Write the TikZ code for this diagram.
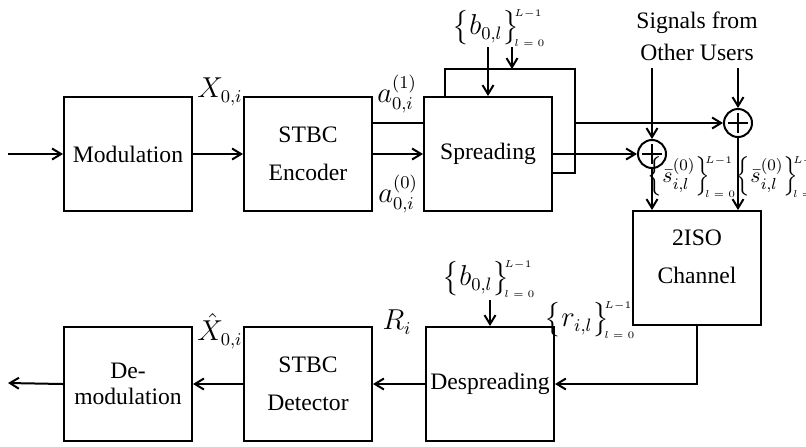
\documentclass[tikz,border=0pt]{standalone}
\usepackage{amsmath}
\usepackage{fontspec}
\setmainfont{Liberation Serif}
\usepackage{tikz}
\usetikzlibrary{calc}
\usetikzlibrary{arrows.meta}

\newcommand{\boxfont}{\fontsize{11.8}{19}\selectfont}
\newcommand{\labfont}{\fontsize{13.5}{16}\selectfont}
\newcommand{\tinyidx}[1]{\kern-2.5pt\mbox{\fontsize{5.5}{6}\selectfont$#1$}}

\begin{document}
\begin{tikzpicture}[x = 0.5pt, y = -0.5pt,
    block/.style = {draw, line width = 1pt, minimum width = 64pt, minimum height = 57pt,
                    align = center, inner sep = 0pt, font = \boxfont},
    adder/.style = {draw, circle, line width = 1pt, minimum size = 14pt, inner sep = 0pt,
                    path picture = {
                      \draw [line width = 1pt] ([yshift = -2pt]path picture bounding box.north)
                        -- ([yshift = 2pt]path picture bounding box.south);
                      \draw [line width = 1pt] ([xshift = 2pt]path picture bounding box.west)
                        -- ([xshift = -2pt]path picture bounding box.east);}},
    wire/.style = {line width = 1pt},
    sig/.style = {line width = 1pt, -{Straight Barb[length = 4.5pt, width = 5.5pt]}},
    lab/.style = {inner sep = 0pt, font = \labfont},
    slab/.style = {inner sep = 0pt, font = \fontsize{11}{13}\selectfont}]
    \useasboundingbox (0, 0) rectangle (806, 446);

    % transmitter
    \node [block] (mod) at (128, 154) {Modulation};
    \node [block] (enc) at (308, 154) {STBC\\Encoder};
    \draw [wire, fill = white] (445, 96) -- (445, 69) -- (575, 69) -- (575, 173) -- (553, 173);
    \node [block, fill = white] (spr) at (488, 154) {Spreading};
    \node [adder] (add1) at (652, 154) {};
    \node [adder] (add2) at (738, 123) {};
    \node [block, text depth = 11pt] (chan) at (697, 268) {2ISO\\Channel};

    % receiver
    \node [block] (desp) at (490, 384) {Despreading};
    \node [block] (det) at (308, 384) {STBC\\Detector};
    \node [block] (demod) at (128, 384) {De-\\[-6pt]modulation};

    \coordinate (in) at (8, 154);
    \coordinate (out) at (8, 383);
    \coordinate (bin1) at (488, 47);
    \coordinate (bin2) at (512, 47);
    \coordinate (bfr) at (512, 69);
    \coordinate (sprb) at (575, 123);
    \coordinate (oth1) at (652, 68);
    \coordinate (oth2) at (738, 68);
    \coordinate (bin3) at (490, 300);

    % labels
    \node [lab] (xlab) at (220, 92) {$X_{0,i}$};
    \node [lab] (a1lab) at (397, 94) {$a^{(1)}_{0,i}$};
    \node [lab] (a0lab) at (398, 194) {$a^{(0)}_{0,i}$};
    \node [lab] (btop) at (499, 28) {$\bigl\{ b_{0,l} \bigr\}_{\tinyidx{l=0}}^{\tinyidx{L{-}1}}$};
    \node [font = \boxfont, inner sep = 0pt, align = center] (others) at (697, 36) {Signals from\\[-3pt]Other Users};
    \node [slab] (s1lab) at (692, 177) {$\Bigl\{ \bar{s}^{(0)}_{i,l} \Bigr\}_{\tinyidx{l=0}}^{\tinyidx{L{-}1}}$};
    \node [slab] (s2lab) at (780, 177) {$\Bigl\{ \bar{s}^{(0)}_{i,l} \Bigr\}_{\tinyidx{l=0}}^{\tinyidx{L{-}1}}$};
    \node [lab] (xhat) at (220, 331) {$\hat{X}_{0,i}$};
    \node [lab] (rlab) at (397, 322) {$R_i$};
    \node [lab] (rset) at (590, 320) {$\bigl\{ r_{i,l} \bigr\}_{\tinyidx{l=0}}^{\tinyidx{L{-}1}}$};
    \node [lab] (bbot) at (489, 279) {$\bigl\{ b_{0,l} \bigr\}_{\tinyidx{l=0}}^{\tinyidx{L{-}1}}$};

    % connections
    \draw [sig] (in) -- (mod.west);
    \draw [sig] (mod.east) -- (enc.west);
    \draw [wire] ([yshift = 15.5pt]enc.east) -- ([yshift = 15.5pt]spr.west);
    \draw [sig] (enc.east) -- (spr.west);
    \draw [sig] (bin1) -- (spr.north);
    \draw [sig] (bin2) -- (bfr);
    \draw [sig] (sprb) -- (add2.west);
    \draw [sig] (spr.east) -- (add1.west);
    \draw [sig] (oth1) -- (add1.north);
    \draw [sig] (oth2) -- (add2.north);
    \draw [sig] (add1.south) -- (add1.south |- chan.north);
    \draw [sig] (add2.south) -- (add2.south |- chan.north);
    \draw [sig] (chan.south) |- (desp.east);
    \draw [sig] (bin3) -- (desp.north);
    \draw [sig] (desp.west) -- (det.east);
    \draw [sig] (det.west) -- (demod.east);
    \draw [sig] (demod.west) -- (out);
\end{tikzpicture}
\end{document}
